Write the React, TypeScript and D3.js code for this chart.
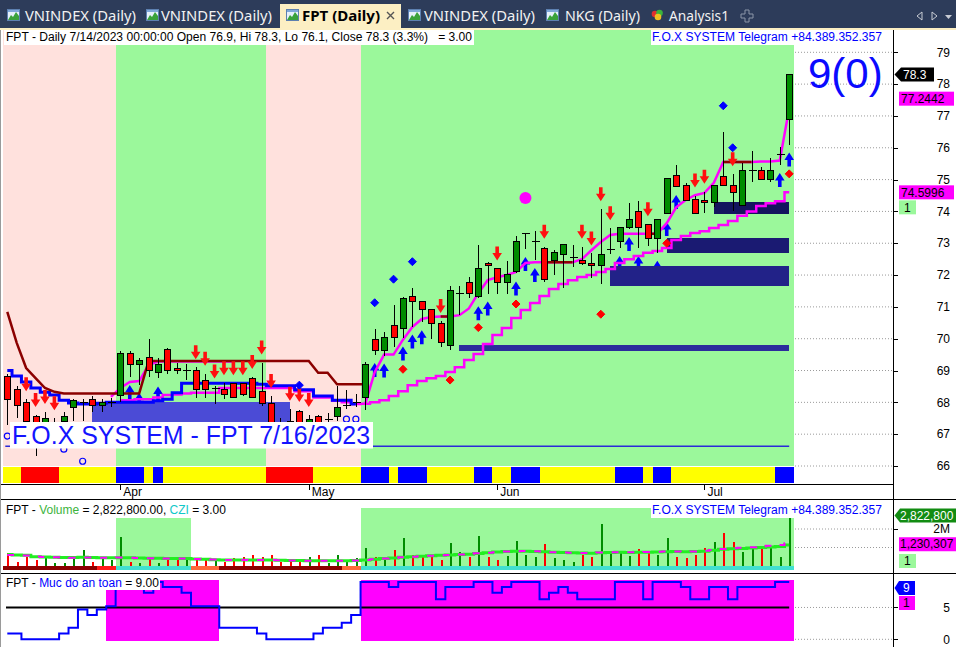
import React from 'react'
import * as d3 from 'd3'

// FPT daily, 16 Mar - 14 Jul 2023
const dates = [
  '2023-03-16', '2023-03-17', '2023-03-20', '2023-03-21', '2023-03-22', '2023-03-23', '2023-03-24', '2023-03-27', '2023-03-28', '2023-03-29', '2023-03-30', '2023-03-31',
  '2023-04-03', '2023-04-04', '2023-04-05', '2023-04-06', '2023-04-07', '2023-04-10', '2023-04-11', '2023-04-12', '2023-04-13', '2023-04-14', '2023-04-17', '2023-04-18',
  '2023-04-19', '2023-04-20', '2023-04-21', '2023-04-24', '2023-04-25', '2023-04-26', '2023-04-27', '2023-04-28', '2023-05-04', '2023-05-05', '2023-05-08', '2023-05-09',
  '2023-05-10', '2023-05-11', '2023-05-12', '2023-05-15', '2023-05-16', '2023-05-17', '2023-05-18', '2023-05-19', '2023-05-22', '2023-05-23', '2023-05-24', '2023-05-25',
  '2023-05-26', '2023-05-29', '2023-05-30', '2023-05-31', '2023-06-01', '2023-06-02', '2023-06-05', '2023-06-06', '2023-06-07', '2023-06-08', '2023-06-09', '2023-06-12',
  '2023-06-13', '2023-06-14', '2023-06-15', '2023-06-16', '2023-06-19', '2023-06-20', '2023-06-21', '2023-06-22', '2023-06-23', '2023-06-26', '2023-06-27', '2023-06-28',
  '2023-06-29', '2023-06-30', '2023-07-03', '2023-07-04', '2023-07-05', '2023-07-06', '2023-07-07', '2023-07-10', '2023-07-11', '2023-07-12', '2023-07-13', '2023-07-14'
]

const open = [
  68.8, 68.4, 68.0, 67.55, 67.35, 67.2, 67.4, 67.85, 68.0, 68.1, 67.9, 68.0,
  68.2, 69.55, 69.2, 69.4, 68.95, 69.65, 69.05, 69.0, 69.0, 68.7, 68.45, 68.4,
  68.6, 68.6, 68.75, 68.35, 67.97, 67.3, 67.4, 67.7, 67.2, 67.56, 67.45, 67.55,
  67.9, 68.0, 68.15, 69.98, 69.62, 70.4, 70.33, 71.34, 71.18, 70.92, 70.48, 69.78,
  71.43, 71.77, 71.32, 72.37, 72.21, 71.77, 72.1, 73.32, 73.07, 72.82, 72.45, 72.65,
  72.56, 72.47, 72.37, 72.29, 72.8, 73.05, 73.49, 74.0, 73.6, 73.15, 73.94, 75.14,
  74.8, 74.36, 74.35, 74.27, 75.11, 74.83, 74.18, 75.3, 75.3, 75.0, 75.8, 76.9
]
const high = [
  68.9, 68.5, 68.1, 67.6, 67.7, 67.5, 67.7, 68.1, 68.1, 68.2, 68.1, 68.15,
  69.6, 69.6, 69.4, 70.0, 69.4, 69.7, 69.25, 69.2, 69.1, 68.9, 68.5, 68.6,
  68.6, 68.6, 68.8, 69.25, 68.2, 67.5, 67.8, 67.76, 67.6, 67.6, 67.65, 68.5,
  68.4, 68.25, 69.28, 70.3, 70.2, 71.06, 71.32, 71.6, 71.18, 70.92, 70.56, 71.65,
  71.65, 71.95, 72.94, 72.4, 72.21, 72.44, 73.22, 73.32, 73.38, 72.89, 72.79, 72.97,
  72.94, 72.89, 72.68, 74.07, 73.47, 73.5, 74.26, 74.33, 73.6, 73.75, 75.04, 75.46,
  74.9, 74.5, 74.62, 74.8, 76.5, 75.17, 75.51, 75.9, 75.4, 75.67, 76.03, 78.3
]
const low = [
  67.3, 67.5, 66.9, 66.3, 66.9, 66.8, 66.7, 67.4, 67.4, 67.7, 67.7, 67.85,
  68.0, 68.8, 68.55, 68.8, 68.75, 68.9, 68.9, 68.7, 68.15, 68.15, 67.95, 68.1,
  68.15, 68.2, 68.15, 67.9, 66.9, 66.8, 66.8, 66.9, 66.9, 66.9, 67.3, 67.4,
  67.8, 67.85, 67.76, 69.49, 69.47, 69.75, 70.01, 70.38, 70.52, 70.0, 69.73, 69.64,
  70.74, 71.27, 71.27, 71.42, 71.42, 71.42, 72.05, 72.82, 72.47, 71.79, 72.0, 71.6,
  72.26, 72.32, 71.9, 71.72, 72.66, 72.85, 73.45, 72.85, 72.9, 72.7, 73.92, 74.77,
  74.35, 73.93, 73.96, 74.15, 74.8, 74.02, 74.18, 74.93, 75.0, 74.93, 75.46, 76.1
]
const close = [
  68.1, 67.9, 67.4, 67.0, 67.5, 67.35, 67.55, 68.05, 68.0, 67.9, 68.0, 68.0,
  69.55, 69.2, 69.3, 69.0, 69.2, 69.0, 69.0, 69.0, 68.4, 68.4, 68.45, 68.25,
  68.15, 68.25, 68.15, 67.97, 67.1, 67.1, 67.2, 67.2, 67.47, 67.3, 67.45, 67.85,
  67.9, 68.0, 69.2, 69.62, 70.04, 70.03, 71.27, 71.16, 70.92, 70.48, 69.87, 71.53,
  71.43, 71.43, 72.21, 72.3, 71.77, 72.02, 73.07, 73.32, 73.07, 71.87, 72.71, 72.97,
  72.56, 72.37, 72.3, 72.66, 72.8, 73.5, 73.75, 73.49, 73.15, 73.75, 75.04, 74.78,
  74.35, 73.93, 74.27, 74.8, 74.8, 74.59, 75.3, 75.3, 75.0, 75.3, 75.8, 78.3
]
// volume in millions of shares
const volume = [
  0.69, 0.23, 0.5, 0.32, 0.55, 0.15, 0.15, 0.5, 0.86, 0.23, 0.41, 0.3,
  1.58, 0.23, 0.15, 0.41, 0.15, 0.32, 0.41, 0.41, 0.45, 0.32, 0.25, 0.23,
  0.41, 0.5, 0.59, 0.5, 0.59, 0.23, 0.32, 0.23, 0.5, 0.59, 0.15, 0.59,
  0.32, 0.41, 0.96, 0.5, 0.41, 0.86, 1.5, 0.59, 0.55, 0.5, 0.32, 1.22,
  0.77, 0.5, 1.62, 0.5, 0.32, 0.55, 1.35, 0.59, 0.5, 1.17, 0.41, 0.32,
  0.23, 0.59, 0.5, 2.25, 0.63, 0.81, 0.54, 0.9, 0.72, 0.59, 1.53, 0.5,
  0.41, 0.59, 0.96, 1.32, 1.77, 1.32, 0.77, 1.05, 1.01, 1.05, 0.5, 2.8228
]
const volAvg = [
  0.62, 0.6, 0.58, 0.5, 0.48, 0.47, 0.46, 0.46, 0.47, 0.46, 0.45, 0.44,
  0.45, 0.44, 0.43, 0.42, 0.42, 0.41, 0.41, 0.41, 0.38, 0.36, 0.34, 0.33,
  0.33, 0.32, 0.32, 0.32, 0.32, 0.31, 0.3, 0.3, 0.29, 0.29, 0.28, 0.28,
  0.29, 0.3, 0.33, 0.36, 0.4, 0.43, 0.47, 0.5, 0.53, 0.56, 0.58, 0.6,
  0.62, 0.64, 0.68, 0.72, 0.76, 0.78, 0.8, 0.8, 0.79, 0.77, 0.75, 0.73,
  0.71, 0.7, 0.69, 0.72, 0.73, 0.74, 0.73, 0.74, 0.75, 0.76, 0.77, 0.78,
  0.77, 0.78, 0.8, 0.85, 0.9, 0.93, 0.95, 0.97, 1.0, 1.03, 1.06, 1.13
]
const volAvg2 = [
  0.6, 0.59, 0.57, 0.52, 0.49, 0.47, 0.46, 0.45, 0.46, 0.46, 0.45, 0.44,
  0.46, 0.45, 0.43, 0.42, 0.41, 0.41, 0.41, 0.4, 0.38, 0.36, 0.35, 0.33,
  0.33, 0.33, 0.32, 0.32, 0.32, 0.31, 0.3, 0.3, 0.29, 0.29, 0.29, 0.28,
  0.29, 0.3, 0.33, 0.37, 0.4, 0.43, 0.47, 0.5, 0.53, 0.56, 0.58, 0.6,
  0.62, 0.64, 0.69, 0.72, 0.75, 0.78, 0.8, 0.81, 0.8, 0.78, 0.75, 0.73,
  0.71, 0.7, 0.7, 0.73, 0.74, 0.75, 0.74, 0.74, 0.76, 0.77, 0.78, 0.79,
  0.78, 0.79, 0.82, 0.87, 0.92, 0.96, 0.98, 1.01, 1.05, 1.09, 1.14, 1.23
]

const _ = null
const stopLine = [
  70.84, 69.87, 69.08, 68.76, 68.45, 68.33, 68.28, 68.28, 68.28, 68.28, 68.28, 68.28,
  68.28, 68.28, 68.28, 69.3, 69.3, 69.3, 69.3, 69.3, 69.3, 69.3, 69.3, 69.3,
  69.3, 69.3, 69.3, 69.3, 69.3, 69.3, 69.3, 69.3, 69.3, 68.93, 68.93, 68.57,
  68.57, 68.57, 68.57, _, _, _, _, _, _, _, 70.7, 70.7,
  _, _, _, _, _, _, _, _, _, 72.4, 72.4, 72.4,
  72.4, _, _, _, _, _, _, _, 73.3, 73.3, _, _,
  _, _, _, _, 75.55, 75.55, 75.55, 75.55, _, _, _, _
]
const trendLine = [
  69.0, 68.83, 68.64, 68.45, 68.32, 68.23, 68.07, 67.98, 67.95, 67.95, 67.97, 68.0,
  68.0, 68.0, 68.0, 68.0, 68.05, 68.1, 68.3, 68.6, 68.6, 68.6, 68.6, 68.6,
  68.6, 68.6, 68.6, 68.57, 68.52, 68.52, 68.52, 68.4, 68.4, 68.2, 68.2, 68.07,
  68.07, 67.95, _, _, _, _, _, _, _, _, _, _,
  _, _, _, _, _, _, _, _, _, _, _, _,
  _, _, _, _, _, _, _, _, _, _, _, _,
  _, _, _, _, _, _, _, _, _, _, _, _
]
const bandUpper = [
  _, _, _, _, _, _, _, _, _, _, _, 68.17,
  68.45, 68.64, 68.67, 69.17, 69.28, 69.28, 69.28, 69.28, 69.28, 69.28, 69.28, 69.28,
  69.28, _, _, _, _, _, _, _, _, _, _, _,
  _, _, 67.96, 68.95, 69.5, 69.5, 69.97, 70.37, 70.62, 70.68, 70.7, 70.7,
  70.74, 70.95, 71.43, 71.84, 71.93, 72.0, 72.1, 72.38, 72.4, 72.4, 72.4, 72.4,
  72.4, 72.5, 72.78, 73.04, 73.26, 73.3, 73.3, 73.3, 73.3, 73.3, 73.63, 74.13,
  74.36, 74.51, 74.58, 74.9, 75.55, 75.55, 75.55, 75.55, 75.57, 75.57, 75.6, 77.2442
]
const bandLower = [
  _, _, _, _, _, _, _, _, _, _, _, _,
  68.07, 68.07, 68.1, 68.1, 68.15, 68.23, 68.25, 68.28, 68.3, 68.3, 68.3, 68.45,
  68.45, 68.45, 68.45, 68.45, 68.45, 68.45, 68.45, 68.35, 68.35, 68.15, 68.15, 68.05,
  68.0, 67.95, 67.96, 68.0, 68.07, 68.2, 68.35, 68.54, 68.67, 68.76, 68.83, 68.95,
  69.1, 69.33, 69.52, 69.83, 70.12, 70.34, 70.65, 70.9, 71.12, 71.34, 71.56, 71.72,
  71.84, 71.94, 72.0, 72.1, 72.19, 72.38, 72.5, 72.6, 72.7, 72.76, 72.85, 73.1,
  73.23, 73.32, 73.38, 73.48, 73.57, 73.7, 73.86, 74.0, 74.17, 74.26, 74.32, 74.5996
]
// "Muc do an toan" (safety level 0-9)
const safety = [
  0.9, 0.9, 0, 0, 0, 0, 0.9, 1.8, 4.7, 3.8, 4.7, 5.2,
  9, 9, 9, 7.3, 9, 8.2, 8.2, 7.3, 5.2, 5.2, 5.2, 1.8,
  1.8, 1.8, 1.8, 0.9, 0, 0, 0, 0, 0, 0.9, 1.8, 1.8,
  2.6, 3.8, 9, 9, 9, 8.2, 9, 9, 9, 9, 6.3, 8.2,
  8.2, 8.2, 9, 9, 7.3, 8.2, 9, 9, 9, 6.3, 7.3, 8.2,
  7.3, 6.3, 6.3, 6.3, 6.3, 9, 9, 9, 6.3, 9, 9, 9,
  8.2, 6.3, 6.3, 8.2, 8.2, 6.3, 8.2, 8.2, 8.2, 8.2, 9, 9
]

// background states as runs of bars
const zoneRuns: [string, number][] = [['P', 12], ['G', 16], ['P', 10], ['G', 46]]
const stripRuns: [string, number][] = [
  ['Y', 2], ['R', 4], ['Y', 6], ['B', 3], ['Y', 1], ['B', 1], ['Y', 11], ['R', 5], ['Y', 5], ['B', 3], ['Y', 1],
  ['B', 3], ['Y', 5], ['B', 2], ['Y', 2], ['B', 3], ['Y', 8], ['B', 3], ['Y', 1], ['B', 2], ['Y', 11], ['B', 2]
]
const volStripRuns: [string, number][] = [['M', 10], ['R', 2], ['C', 8], ['O', 3], ['M', 13], ['O', 2], ['C', 46]]
const volZoneStart = [12, 38]
const volZoneEnd = [19, 83]
const safeZoneStart = [11, 38]
const safeZoneEnd = [22, 83]

// price zones (bars and price ranges)
const boxStart = [9, 48, 64, 70, 75]
const boxEnd = [30, 83, 83, 83, 83]
const boxTop = [68.0, 69.79, 72.3, 73.16, 74.29]
const boxBottom = [67.3, 69.6, 71.67, 72.69, 73.93]
const supportLevel = 66.62

// signals
const sellBars = [2, 3, 4, 5, 20, 21, 22, 23, 24, 25, 26, 27, 28, 30, 31, 32, 46, 52, 57, 61, 62, 63, 64, 68, 73, 74, 77]
const buyBars = [13, 14, 16, 39, 40, 42, 43, 44, 50, 51, 54, 55, 56, 65, 66, 67, 69, 70, 71, 82, 83]
const blueDots: [number, number][] = [[31, 68.54], [39, 71.13], [41, 71.87], [43, 72.42], [76, 77.32], [77, 76.0]]
const redDots: [number, number][] = [[42, 69.04], [47, 68.7], [50, 70.35], [54, 71.09], [63, 70.77], [70, 73.0], [83, 75.18]]
const hollowDots: [number, number][] = [[0, 66.94], [6, 66.53], [8, 66.15], [36, 67.47], [37, 67.47]]
const bigDots: [number, number][] = [[55, 74.42]]

const FONT = '"Liberation Sans", Arial, sans-serif'
const UI_FONT = '"Noto Sans", "Open Sans", sans-serif'
const PINK = '#ffe1dd'
const GREEN_BG = '#9bf89b'
const stripColor: Record<string, string> = { Y: '#ffff00', R: '#ff0000', B: '#0000ff' }
const volStripColor: Record<string, string> = { M: '#8b0000', R: '#ff1a1a', C: '#40e0d0', O: '#ff6a3a' }
const boxColor = ['#4b4bd6', '#2c2c9c', '#222288', '#1a1a72', '#14145e']

const expand = (runs: [string, number][]) => runs.flatMap(([k, n]) => d3.range(n).map(() => k))

const sellPath = 'M-1.8,-14L1.8,-14L1.8,-7.5L4.8,-7.5L0,0L-4.8,-7.5L-1.8,-7.5Z'
const buyPath = 'M-1.8,14L1.8,14L1.8,7.5L4.8,7.5L0,0L-4.8,7.5L-1.8,7.5Z'

function ChartIcon({ x }: { x: number }) {
  return (
    <g transform={`translate(${x},9)`}>
      <rect x={0.5} y={0.5} width={12} height={11} fill="#e6f0fa" stroke="#5d80b0" />
      <path d="M1,11 L4,6 L6,8 L9,3 L12,7 L12,11 Z" fill="#3aa23a" />
      <rect x={1} y={1} width={11} height={2} fill="#7fa7d8" />
    </g>
  )
}

export default function App() {
  const n = dates.length
  const x = d3.scalePoint<number>().domain(d3.range(n)).range([7.3, 789.2])
  const step = x.step()
  const X = (i: number) => x(i) as number
  const y = d3.scaleLinear().domain([66, 79]).range([466, 52.3])
  const yV = d3.scaleLinear().domain([0, 2]).range([566, 529])
  const yS = d3.scaleLinear().domain([0, 9]).range([639.3, 582])

  const lineOf = (sy: (v: number) => number, curve: d3.CurveFactory) =>
    d3.line<number | null>().defined(d => d != null).x((_d, i) => X(i)).y(d => sy(d as number)).curve(curve)

  const zones = expand(zoneRuns)
  const strip = expand(stripRuns)
  const volStrip = expand(volStripRuns)

  const parse = d3.timeParse('%Y-%m-%d')
  const monthFmt = d3.timeFormat('%b')
  const monthTicks = d3.range(1, n).filter(i => dates[i].slice(5, 7) !== dates[i - 1].slice(5, 7))

  const last = n - 1
  const pct = ((close[last] / close[last - 1] - 1) * 100).toFixed(1)
  const lastDate = parse(dates[last]) as Date
  const header = `FPT - Daily ${d3.timeFormat('%-m/%-d/%Y')(lastDate)} 00:00:00 Open ${open[last]}, Hi ${high[last]}, Lo ${low[last]}, Close ${close[last]} (${pct}%)   = 3.00`

  const AXIS = 893.5
  const priceTicks = y.ticks(13)
  const barLeft = (i: number) => X(i) - step / 2

  const tabs = [
    { label: 'VNINDEX (Daily)', icon: 7, tx: 25, len: 111 },
    { label: 'VNINDEX (Daily)', icon: 146, tx: 161, len: 111 },
    { label: 'VNINDEX (Daily)', icon: 408, tx: 424, len: 111 },
    { label: 'NKG (Daily)', icon: 546, tx: 565, len: 75 }
  ]

  return (
    <svg width={956} height={647} style={{ position: 'absolute', left: 0, top: 0, display: 'block', background: '#fff' }} fontFamily={FONT}>
      {/* tab strip */}
      <rect x={0} y={0} width={956} height={28} fill="#2d3c5a" />
      {tabs.map((t, i) => (
        <g key={i}>
          <ChartIcon x={t.icon} />
          <text x={t.tx} y={21} fontSize={14.5} fill="#f2f2f2" fontFamily={UI_FONT} textLength={t.len} lengthAdjust="spacingAndGlyphs">{t.label}</text>
        </g>
      ))}
      <rect x={280} y={4} width={121} height={26} fill="#fcefc3" />
      <ChartIcon x={286} />
      <text x={302} y={21} fontSize={14.5} fontWeight="bold" fill="#000" fontFamily={UI_FONT} textLength={78} lengthAdjust="spacingAndGlyphs">FPT (Daily)</text>
      <path d="M387,12 L394,19 M394,12 L387,19" stroke="#555" strokeWidth={1.4} />
      <g transform="translate(651,9)">
        <circle cx={4} cy={5} r={3.3} fill="#e03030" />
        <circle cx={8.5} cy={4} r={3.3} fill="#3cb43c" />
        <circle cx={7} cy={8} r={3.3} fill="#f0c020" />
      </g>
      <text x={669} y={21} fontSize={14.5} fill="#f2f2f2" fontFamily={UI_FONT} textLength={60} lengthAdjust="spacingAndGlyphs">Analysis1</text>
      <path d="M745,10 h4 v4 h4 v4 h-4 v4 h-4 v-4 h-4 v-4 h4 Z" fill="none" stroke="#8c96a8" />
      <path d="M922,12 L917,16 L922,20 Z M932,12 L937,16 L932,20 Z" fill="none" stroke="#c8ccd4" />
      <path d="M945,15 L952,15 L948.5,19 Z" fill="#c8ccd4" />
      <rect x={0} y={28} width={956} height={2} fill="#fcefc3" />

      {/* ===== price pane ===== */}
      {priceTicks.map(t => (
        <line key={t} x1={795} x2={AXIS} y1={y(t)} y2={y(t)} stroke="#9a9a9a" strokeDasharray="1,2" />
      ))}
      <g shapeRendering="crispEdges">
        {zones.map((z, i) => (
          <rect key={i} x={barLeft(i)} y={30} width={step + 0.5} height={436} fill={z === 'P' ? PINK : GREEN_BG} />
        ))}
      </g>
      {buyBars.map(i => (
        <path key={'b' + i} d={buyPath} transform={`translate(${X(i)},${y(low[i]) + 8})`} fill="#0000ff" />
      ))}
      <g shapeRendering="crispEdges">
        {boxStart.map((s, k) => (
          <rect key={k} x={X(s)} y={y(boxTop[k])} width={X(boxEnd[k]) - X(s)} height={y(boxBottom[k]) - y(boxTop[k])} fill={boxColor[k]} />
        ))}
      </g>
      <line x1={X(0) - 2} x2={X(last)} y1={y(supportLevel)} y2={y(supportLevel)} stroke="#2a2ad8" strokeWidth={1.5} />

      <path d={lineOf(y, d3.curveStep)(bandLower) || ''} fill="none" stroke="#ff00ff" strokeWidth={2.5} />
      <path d={lineOf(y, d3.curveStep)(trendLine) || ''} fill="none" stroke="#0000ff" strokeWidth={3} />
      <path d={lineOf(y, d3.curveLinear)(bandUpper) || ''} fill="none" stroke="#ff00ff" strokeWidth={2.5} />
      <path d={lineOf(y, d3.curveLinear)(stopLine) || ''} fill="none" stroke="#8b0000" strokeWidth={2.5} />

      <g shapeRendering="crispEdges">
        {open.map((o, i) => {
          const cx = Math.round(X(i)) + 0.5
          const c = close[i]
          const yo = y(o)
          const yc = y(c)
          return (
            <g key={i}>
              <line x1={cx} x2={cx} y1={y(high[i])} y2={y(low[i])} stroke="#000" />
              {c === o ? (
                <line x1={cx - 3.5} x2={cx + 4} y1={yc} y2={yc} stroke="#000" />
              ) : (
                <rect x={cx - 3} y={Math.min(yo, yc)} width={6} height={Math.max(1, Math.abs(yo - yc))}
                  fill={c > o ? '#008c00' : '#ff0000'} stroke="#000" />
              )}
            </g>
          )
        })}
      </g>

      {sellBars.map(i => (
        <path key={'s' + i} d={sellPath} transform={`translate(${X(i)},${y(high[i]) - 8})`} fill="#ff1010" />
      ))}
      {blueDots.map(([i, v]) => (
        <path key={'bd' + i} d="M0,-4L4,0L0,4L-4,0Z" transform={`translate(${X(i)},${y(v)})`} fill="#0000ff" stroke="#0000ff" strokeWidth={1} strokeLinejoin="round" />
      ))}
      {redDots.map(([i, v]) => (
        <path key={'rd' + i} d="M0,-4L4,0L0,4L-4,0Z" transform={`translate(${X(i)},${y(v)})`} fill="#ff0000" stroke="#ff0000" strokeWidth={1} strokeLinejoin="round" />
      ))}
      {hollowDots.map(([i, v]) => (
        <circle key={'hd' + i} cx={X(i)} cy={y(v)} r={3} fill="none" stroke="#0000ff" strokeWidth={1.2} />
      ))}
      {bigDots.map(([i, v]) => (
        <circle key={'md' + i} cx={X(i)} cy={y(v)} r={6} fill="#ff00ff" />
      ))}

      {/* signal strip and time axis */}
      <g shapeRendering="crispEdges">
        {strip.map((s, i) => (
          <rect key={i} x={barLeft(i)} y={466.5} width={step + 0.5} height={16.5} fill={stripColor[s]} />
        ))}
      </g>
      <line x1={0} x2={AXIS} y1={484.5} y2={484.5} stroke="#000" />
      {monthTicks.map(i => (
        <g key={i}>
          <line x1={Math.round(X(i)) + 0.5} x2={Math.round(X(i)) + 0.5} y1={484} y2={490} stroke="#000" />
          <text x={X(i) + 3} y={496} fontSize={12} fill="#000">{monthFmt(parse(dates[i]) as Date)}</text>
        </g>
      ))}

      {/* texts of price pane */}
      <rect x={10} y={422} width={363} height={26.5} fill="#fff" />
      <text x={12} y={444} fontSize={26} fill="#1414ff" textLength={358} lengthAdjust="spacingAndGlyphs">F.O.X SYSTEM - FPT 7/16/2023</text>
      <text x={808} y={88} fontSize={42} fill="#0a0aff">9(0)</text>
      <rect x={4} y={30} width={470} height={15} fill="#fff" />
      <text x={6} y={41} fontSize={12} fill="#000" style={{ whiteSpace: 'pre' }} textLength={466} lengthAdjust="spacingAndGlyphs">{header}</text>
      <rect x={651} y={30} width={233} height={15} fill="#fff" />
      <text x={652} y={41} fontSize={12} fill="#0000ff" textLength={230} lengthAdjust="spacingAndGlyphs">F.O.X SYSTEM Telegram +84.389.352.357</text>

      {/* price axis */}
      {priceTicks.map(t => (
        <g key={t}>
          <line x1={AXIS} x2={898} y1={Math.round(y(t)) + 0.5} y2={Math.round(y(t)) + 0.5} stroke="#000" />
          <text x={950} y={y(t)} dy="0.35em" fontSize={12} textAnchor="end" fill="#000">{t}</text>
        </g>
      ))}
      <path d={`M${AXIS + 1},${y(close[last])} L901,${y(close[last]) - 7} L934,${y(close[last]) - 7} L934,${y(close[last]) + 7} L901,${y(close[last]) + 7} Z`} fill="#000" />
      <text x={903} y={y(close[last])} dy="0.35em" fontSize={12} fill="#fff">{close[last]}</text>
      <rect x={899} y={y(bandUpper[last] as number) - 16.5} width={55} height={14} fill="#ff00ff" />
      <text x={901} y={y(bandUpper[last] as number) - 9.5} dy="0.35em" fontSize={12} fill="#000">{bandUpper[last]}</text>
      <rect x={899} y={y(bandLower[last] as number) - 7} width={55} height={14} fill="#ff00ff" />
      <text x={901} y={y(bandLower[last] as number)} dy="0.35em" fontSize={12} fill="#000">{bandLower[last]}</text>
      <rect x={899} y={y(bandLower[last] as number) + 8} width={17} height={14} fill={GREEN_BG} />
      <text x={904} y={y(bandLower[last] as number) + 15} dy="0.35em" fontSize={12} fill="#000">1</text>

      {/* ===== volume pane ===== */}
      <line x1={0} x2={956} y1={499.5} y2={499.5} stroke="#000" />
      {[1, 2].map(t => (
        <line key={t} x1={795} x2={AXIS} y1={yV(t)} y2={yV(t)} stroke="#9a9a9a" strokeDasharray="1,2" />
      ))}
      <g shapeRendering="crispEdges">
        {volZoneStart.map((s, k) => (
          <rect key={k} x={barLeft(s)} y={k === 0 ? 518 : 507.5} width={X(volZoneEnd[k]) + step / 2 - barLeft(s)} height={k === 0 ? 52 : 62.5} fill={GREEN_BG} />
        ))}
        {volume.map((v, i) => (
          <rect key={i} x={Math.round(X(i)) - 0.5} y={yV(v)} width={2} height={yV(0) - yV(v)} fill={close[i] >= open[i] ? '#008c00' : '#ff0000'} />
        ))}
        {volStrip.map((s, i) => (
          <rect key={'vs' + i} x={barLeft(i)} y={566} width={step + 0.5} height={4} fill={volStripColor[s]} />
        ))}
      </g>
      <path d={lineOf(yV, d3.curveStep)(volAvg) || ''} fill="none" stroke="#22ee22" strokeWidth={3} />
      <path d={lineOf(yV, d3.curveStep)(volAvg2) || ''} fill="none" stroke="#ff00ff" strokeWidth={2} strokeDasharray="7,9" />
      <text x={6} y={514} fontSize={12} fill="#000">
        FPT - <tspan fill="#3cb43c">Volume</tspan> = 2,822,800.00, <tspan fill="#10c8c8">CZI</tspan> = 3.00
      </text>
      <rect x={651} y={503} width={233} height={15} fill="#fff" />
      <text x={652} y={514} fontSize={12} fill="#0000ff" textLength={230} lengthAdjust="spacingAndGlyphs">F.O.X SYSTEM Telegram +84.389.352.357</text>
      <line x1={AXIS} x2={898} y1={Math.round(yV(2)) + 0.5} y2={Math.round(yV(2)) + 0.5} stroke="#000" />
      <text x={950} y={yV(2)} dy="0.35em" fontSize={12} textAnchor="end">2M</text>
      <path d={`M${AXIS + 1},515.5 L900,508.5 L960,508.5 L960,522.5 L900,522.5 Z`} fill="#128c12" />
      <text x={900} y={515.5} dy="0.35em" fontSize={12} fill="#fff">{d3.format(',')(Math.round(volume[last] * 1e6))}</text>
      <rect x={899} y={yV(volAvg2[last]) - 6} width={60} height={14} fill="#ff00ff" />
      <text x={900} y={yV(volAvg2[last]) + 1} dy="0.35em" fontSize={12} fill="#000">1,230,307</text>
      <rect x={899} y={554} width={17} height={14} fill={GREEN_BG} />
      <text x={904} y={561} dy="0.35em" fontSize={12}>1</text>

      {/* ===== safety pane ===== */}
      <line x1={0} x2={956} y1={573.5} y2={573.5} stroke="#000" />
      {[0, 5].map(t => (
        <line key={t} x1={795} x2={AXIS} y1={yS(t)} y2={yS(t)} stroke="#9a9a9a" strokeDasharray="1,2" />
      ))}
      <g shapeRendering="crispEdges">
        {safeZoneStart.map((s, k) => (
          <rect key={k} x={barLeft(s)} y={580} width={X(safeZoneEnd[k]) + step / 2 - barLeft(s)} height={61} fill="#ff00ff" />
        ))}
      </g>
      <line x1={6} x2={X(last)} y1={yS(5)} y2={yS(5)} stroke="#000" strokeWidth={2} />
      <path d={lineOf(yS, d3.curveStep)(safety) || ''} fill="none" stroke="#0000ff" strokeWidth={2} />
      <rect x={4} y={576} width={156} height={14} fill="#fff" />
      <text x={6} y={587} fontSize={12} fill="#000">
        FPT - <tspan fill="#0000ff">Muc do an toan</tspan> = {safety[last].toFixed(2)}
      </text>
      {[0, 5].map(t => (
        <g key={t}>
          <line x1={AXIS} x2={898} y1={Math.round(yS(t)) + 0.5} y2={Math.round(yS(t)) + 0.5} stroke="#000" />
          <text x={950} y={yS(t)} dy="0.35em" fontSize={12} textAnchor="end">{t}</text>
        </g>
      ))}
      <path d={`M${AXIS + 1},${yS(9) + 6} L899,${yS(9) - 1} L915,${yS(9) - 1} L915,${yS(9) + 13} L899,${yS(9) + 13} Z`} fill="#0000ff" />
      <text x={903} y={yS(9) + 6} dy="0.35em" fontSize={12} fill="#fff">9</text>
      <rect x={899} y={yS(9) + 14} width={16} height={14} fill="#ff00ff" />
      <text x={903} y={yS(9) + 21} dy="0.35em" fontSize={12} fill="#000">1</text>

      {/* frame */}
      <line x1={AXIS} x2={AXIS} y1={30} y2={647} stroke="#000" />
      <line x1={0.5} x2={0.5} y1={30} y2={647} stroke="#9a9a9a" />
    </svg>
  )
}
